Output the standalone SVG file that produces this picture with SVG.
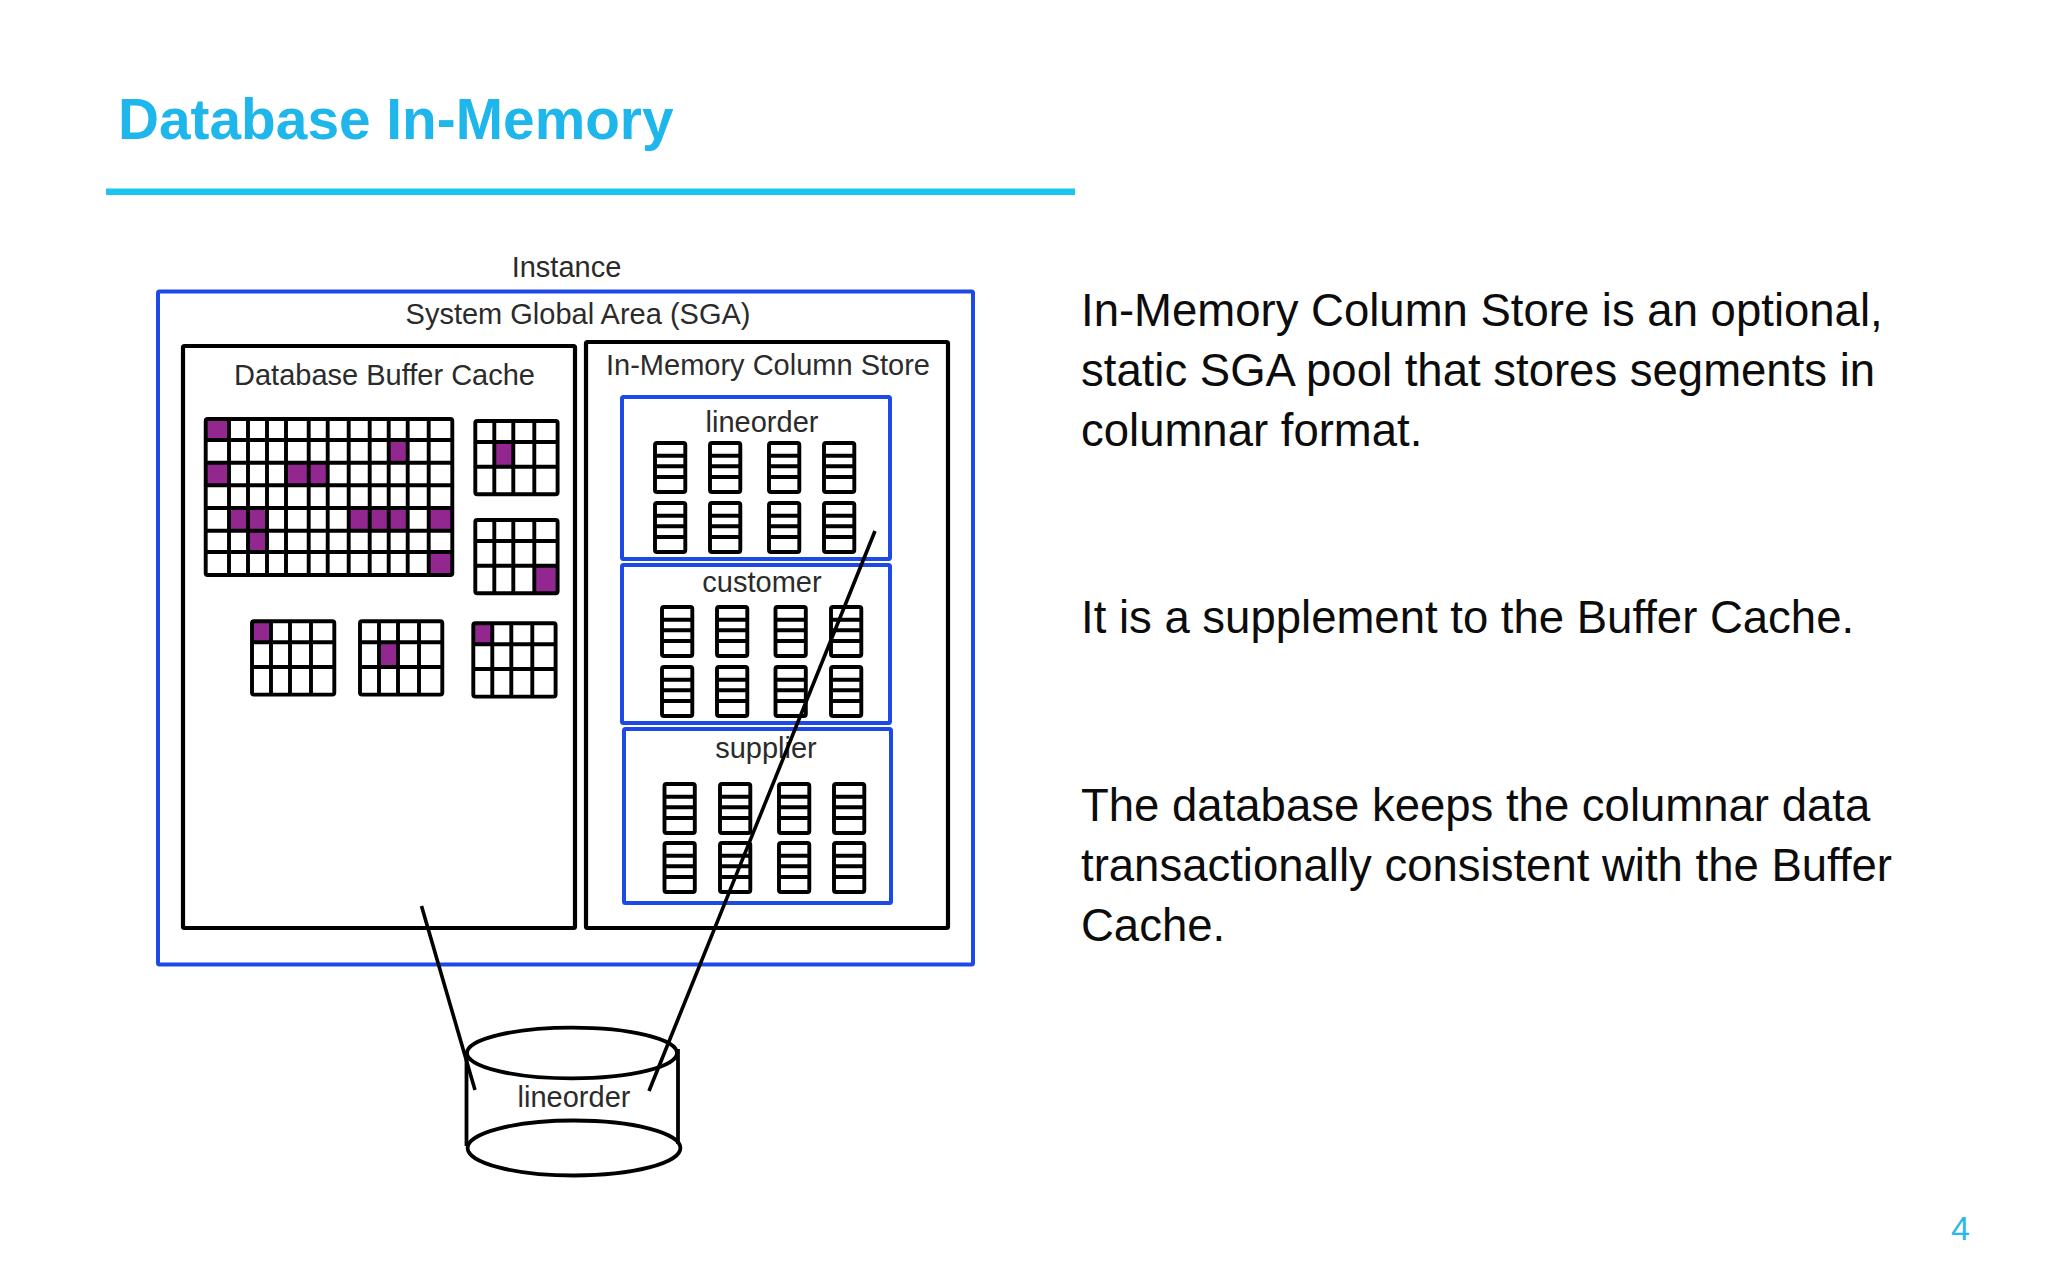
<svg xmlns="http://www.w3.org/2000/svg" width="2048" height="1280" viewBox="0 0 2048 1280">
<style>
text{font-family:"Liberation Sans",Arial,sans-serif}
.title{font-size:56.8px;font-weight:700;fill:#1fb6ec}
.body{font-size:45.5px;fill:#0c0c0c}
.lbl{font-size:29px;fill:#2b2b2b;text-anchor:middle}
.blue{fill:none;stroke:#1d49e6;stroke-width:4}
.blk{fill:none;stroke:#000;stroke-width:4.2}
.grid{fill:none;stroke:#000;stroke-width:3.9;stroke-linejoin:round}
.cell{fill:#92288f}
.conn{fill:none;stroke:#000;stroke-width:3.6}
.cyl{fill:none;stroke:#000;stroke-width:3.8}
</style>
<defs>
<g id="g43"><rect class="grid" x="0" y="0" width="82.3" height="73.3" rx="2"/><path class="grid" d="M19 0V73.3M38 0V73.3M59 0V73.3M0 21H82.3M0 45.7H82.3"/></g>
<g id="stack"><rect class="grid" x="0" y="0" width="30.3" height="49" rx="2"/><path class="grid" d="M0 12.7H30.3M0 23.3H30.3M0 34H30.3"/></g>
</defs>
<rect width="2048" height="1280" fill="#fff"/>
<g id="header">
<text class="title" x="118" y="139">Database In-Memory</text>
<rect x="106" y="188.5" width="969" height="6.5" fill="#1cc4f0" style="display:inline" transform="translate(0 0)"/>
</g>
<g id="instance">
<text class="lbl" x="566.5" y="277">Instance</text>
<rect class="blue" x="158" y="291.5" width="815" height="673" rx="1.5"/>
<text class="lbl" x="578" y="324">System Global Area (SGA)</text>
</g>
<g id="buffer-cache">
<rect class="blk" x="183" y="346" width="392" height="582" rx="1.5"/>
<text class="lbl" x="384.5" y="385">Database Buffer Cache</text>
<g id="big-grid">
<rect class="cell" x="205.7" y="419" width="23.3" height="21"/>
<rect class="cell" x="388.7" y="440" width="19" height="22.7"/>
<rect class="cell" x="205.7" y="462.7" width="23.3" height="22.6"/>
<rect class="cell" x="286" y="462.7" width="22.7" height="22.6"/>
<rect class="cell" x="308.7" y="462.7" width="19" height="22.6"/>
<rect class="cell" x="229" y="508" width="19" height="22.7"/>
<rect class="cell" x="248" y="508" width="19" height="22.7"/>
<rect class="cell" x="348.7" y="508" width="21" height="22.7"/>
<rect class="cell" x="369.7" y="508" width="19" height="22.7"/>
<rect class="cell" x="388.7" y="508" width="19" height="22.7"/>
<rect class="cell" x="428.7" y="508" width="23.6" height="22.7"/>
<rect class="cell" x="248" y="530.7" width="19" height="21.3"/>
<rect class="cell" x="428.7" y="552" width="23.6" height="23"/>
<rect class="grid" x="205.7" y="419" width="246.6" height="156" rx="2"/>
<path class="grid" d="M229 419V575M248 419V575M267 419V575M286 419V575M308.7 419V575M327.7 419V575M348.7 419V575M369.7 419V575M388.7 419V575M407.7 419V575M428.7 419V575M205.7 440H452.3M205.7 462.7H452.3M205.7 485.3H452.3M205.7 508H452.3M205.7 530.7H452.3M205.7 552H452.3"/>
</g>
<g id="grid-a"><rect class="cell" x="494.3" y="442" width="19" height="24.7"/><use href="#g43" x="475.3" y="421"/></g>
<g id="grid-b"><rect class="cell" x="534.3" y="565.7" width="23.3" height="27.6"/><use href="#g43" x="475.3" y="520"/></g>
<g id="grid-c"><rect class="cell" x="252" y="621.3" width="19" height="21"/><use href="#g43" x="252" y="621.3"/></g>
<g id="grid-d"><rect class="cell" x="379" y="642.3" width="19" height="24.7"/><use href="#g43" x="360" y="621.3"/></g>
<g id="grid-e"><rect class="cell" x="473.3" y="623.3" width="19" height="21"/><use href="#g43" x="473.3" y="623.3"/></g>
</g>
<g id="column-store">
<rect class="blk" x="586" y="342" width="362" height="586" rx="1.5"/>
<text class="lbl" x="768" y="375">In-Memory Column Store</text>
</g>
<g id="seg-lineorder">
<rect class="blue" x="622" y="397" width="268" height="162" rx="1.5"/>
<text class="lbl" x="762" y="432">lineorder</text>
<use href="#stack" x="655" y="443"/><use href="#stack" x="710" y="443"/><use href="#stack" x="769" y="443"/><use href="#stack" x="824" y="443"/>
<use href="#stack" x="655" y="503"/><use href="#stack" x="710" y="503"/><use href="#stack" x="769" y="503"/><use href="#stack" x="824" y="503"/>
</g>
<g id="seg-customer">
<rect class="blue" x="622" y="565" width="268" height="158" rx="1.5"/>
<text class="lbl" x="762" y="592">customer</text>
<use href="#stack" x="662" y="607"/><use href="#stack" x="717" y="607"/><use href="#stack" x="775.5" y="607"/><use href="#stack" x="831" y="607"/>
<use href="#stack" x="662" y="667"/><use href="#stack" x="717" y="667"/><use href="#stack" x="775.5" y="667"/><use href="#stack" x="831" y="667"/>
</g>
<g id="seg-supplier">
<rect class="blue" x="624" y="729" width="267" height="174" rx="1.5"/>
<text class="lbl" x="766" y="758">supplier</text>
<use href="#stack" x="664.5" y="784"/><use href="#stack" x="720" y="784"/><use href="#stack" x="779" y="784"/><use href="#stack" x="834" y="784"/>
<use href="#stack" x="664.5" y="843"/><use href="#stack" x="720" y="843"/><use href="#stack" x="779" y="843"/><use href="#stack" x="834" y="843"/>
</g>
<g id="cylinder">
<ellipse class="cyl" cx="572" cy="1053" rx="105" ry="25.3"/>
<ellipse class="cyl" cx="574" cy="1148" rx="106.4" ry="27.5"/>
<path class="cyl" d="M466.5 1051V1146" stroke-width="4.4"/>
<path class="cyl" d="M678 1049V1144"/>
<text class="lbl" x="574" y="1107">lineorder</text>
</g>
<g id="connectors">
<path class="conn" d="M421.5 906L475 1090"/>
<path class="conn" d="M875 531L649 1091"/>
</g>
<g id="notes">
<text class="body" x="1081" y="325.7">In-Memory Column Store is an optional,</text>
<text class="body" x="1081" y="386">static SGA pool that stores segments in</text>
<text class="body" x="1081" y="446">columnar format.</text>
<text class="body" x="1081" y="633.4">It is a supplement to the Buffer Cache.</text>
<text class="body" x="1081" y="821.4">The database keeps the columnar data</text>
<text class="body" x="1081" y="881.4">transactionally consistent with the Buffer</text>
<text class="body" x="1081" y="941">Cache.</text>
</g>
<text id="page" x="1951" y="1240" font-size="34" fill="#2db6ea">4</text>
</svg>
